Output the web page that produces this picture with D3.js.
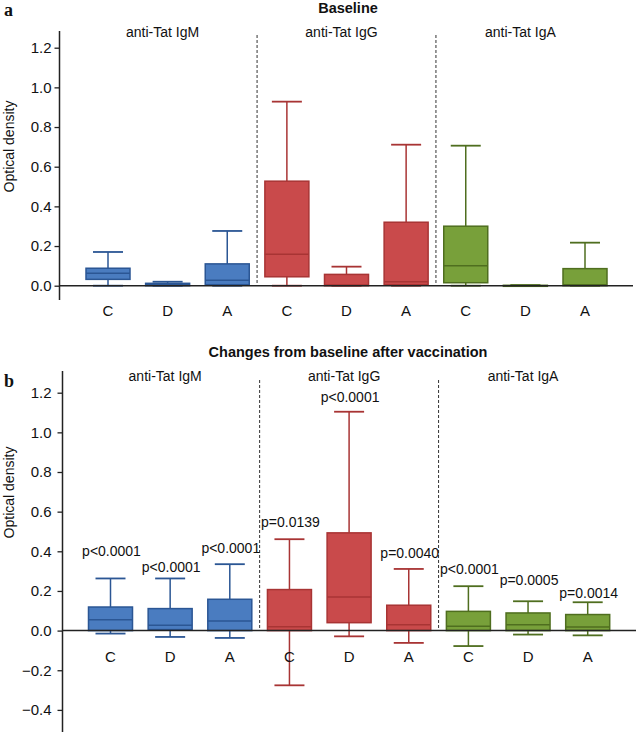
<!DOCTYPE html>
<html><head><meta charset="utf-8">
<script src="https://cdn.jsdelivr.net/npm/d3@7"></script>
<style>
html,body{margin:0;padding:0;background:#fff;}
svg{display:block;font-family:Arial,"Liberation Sans",sans-serif;}
</style></head>
<body><svg id="c" width="638" height="734"></svg>
<script>
// ---------- DATA ----------
const groups = ["anti-Tat IgM", "anti-Tat IgG", "anti-Tat IgA"];
const arms = ["C", "D", "A"];
const yTicksA = [0, 0.2, 0.4, 0.6, 0.8, 1.0, 1.2];
const yTicksB = [-0.4, -0.2, 0, 0.2, 0.4, 0.6, 0.8, 1.0, 1.2];

// Baseline (order: IgM C,D,A, IgG C,D,A, IgA C,D,A)
const baseMin = [0, 0, 0, 0, 0, 0, 0, 0, 0];
const baseQ1  = [0.032, 0, 0.005, 0.045, 0, 0.005, 0.015, 0, 0];
const baseMed = [0.063, 0.005, 0.028, 0.158, 0.003, 0.02, 0.10, 0, 0.005];
const baseQ3  = [0.088, 0.012, 0.11, 0.527, 0.057, 0.32, 0.30, 0.002, 0.086];
const baseMax = [0.17, 0.02, 0.276, 0.928, 0.096, 0.711, 0.706, 0.003, 0.217];

// Changes from baseline after vaccination
const chgMin = [-0.015, -0.032, -0.037, -0.276, -0.029, -0.062, -0.078, -0.02, -0.024];
const chgQ1  = [0, 0.005, 0, 0, 0.04, 0, 0, 0, 0];
const chgMed = [0.055, 0.027, 0.048, 0.02, 0.17, 0.03, 0.022, 0.03, 0.018];
const chgQ3  = [0.119, 0.111, 0.158, 0.207, 0.493, 0.128, 0.097, 0.089, 0.081];
const chgMax = [0.263, 0.263, 0.335, 0.461, 1.104, 0.311, 0.224, 0.148, 0.143];
const pValues = ["p<0.0001", "p<0.0001", "p<0.0001", "p=0.0139", "p<0.0001", "p=0.0040", "p<0.0001", "p=0.0005", "p=0.0014"];

// ---------- STYLE ----------
const fills   = ["#4a7cc0", "#c94a4b", "#78a03a"];
const strokes = ["#2b5694", "#a83434", "#4f6e1f"];
const pLift = [22, 6, 11, 12, 10, 11, 12, 16, 4]; // label lift above whisker (px)

const svg = d3.select("#c");
const keys = d3.range(9);

function panel(opt) {
  const g = svg.append("g");
  const y = d3.scaleLinear().domain(opt.domain).range(opt.yRange);
  const x = d3.scalePoint().domain(keys).range(opt.xRange);
  const bw = 44, cw = 30;
  const y0 = y(0);

  // y axis
  const ax = g.append("g").attr("transform", `translate(${opt.axisX},0)`)
    .call(d3.axisLeft(y).tickValues(opt.ticks).tickSize(5).tickPadding(opt.pad)
      .tickFormat(d3.format(".1f")));
  ax.select(".domain").remove();
  ax.selectAll("line").attr("stroke", "#222").attr("stroke-width", 1.3);
  ax.selectAll("text").attr("font-size", 15).attr("fill", "#111")
    .attr("font-family", "Arial, 'Liberation Sans', sans-serif");
  g.append("line").attr("x1", opt.axisX).attr("x2", opt.axisX)
    .attr("y1", opt.axisTop).attr("y2", opt.axisBottom)
    .attr("stroke", "#222").attr("stroke-width", 1.5);

  // dashed separators
  [2.5, 5.5].forEach(k => {
    const xs = (x(Math.floor(k)) + x(Math.ceil(k))) / 2;
    g.append("line").attr("x1", xs).attr("x2", xs)
      .attr("y1", opt.dashTop).attr("y2", y0)
      .attr("stroke", "#333").attr("stroke-width", 1).attr("stroke-dasharray", "3,2");
  });

  // boxes
  keys.forEach(i => {
    const gi = Math.floor(i / 3);
    const cx = x(i);
    const col = strokes[gi];
    const bg = g.append("g");
    // whiskers
    bg.append("line").attr("x1", cx).attr("x2", cx)
      .attr("y1", y(opt.max[i])).attr("y2", y(opt.q3[i]))
      .attr("stroke", col).attr("stroke-width", 1.5);
    bg.append("line").attr("x1", cx).attr("x2", cx)
      .attr("y1", y(opt.min[i])).attr("y2", y(opt.q1[i]))
      .attr("stroke", col).attr("stroke-width", 1.5);
    [opt.max[i], opt.min[i]].forEach(v => {
      bg.append("line").attr("x1", cx - cw / 2).attr("x2", cx + cw / 2)
        .attr("y1", y(v)).attr("y2", y(v))
        .attr("stroke", col).attr("stroke-width", 1.8);
    });
    // box
    const top = y(opt.q3[i]), bot = y(opt.q1[i]);
    bg.append("rect").attr("x", cx - bw / 2).attr("y", top)
      .attr("width", bw).attr("height", Math.max(bot - top, 1))
      .attr("fill", fills[gi]).attr("stroke", col).attr("stroke-width", 1.5);
    bg.append("line").attr("x1", cx - bw / 2).attr("x2", cx + bw / 2)
      .attr("y1", y(opt.med[i])).attr("y2", y(opt.med[i]))
      .attr("stroke", col).attr("stroke-width", 1.5);
    // category label
    g.append("text").attr("x", cx).attr("y", opt.catY)
      .attr("text-anchor", "middle").attr("font-size", 15).attr("fill", "#111")
      .text(arms[i % 3]);
    if (opt.p) {
      g.append("text").attr("x", cx + 1).attr("y", y(opt.max[i]) - pLift[i])
        .attr("text-anchor", "middle").attr("font-size", 14).attr("fill", "#111")
        .text(opt.p[i]);
    }
  });

  // zero line
  g.append("line").attr("x1", opt.axisX).attr("x2", opt.zeroEnd)
    .attr("y1", y0).attr("y2", y0).attr("stroke", "#222").attr("stroke-width", 1.5);

  // group labels
  groups.forEach((t, gi) => {
    g.append("text").attr("x", x(gi * 3 + 1) - 5).attr("y", opt.groupY)
      .attr("text-anchor", "middle").attr("font-size", 14).attr("fill", "#111").text(t);
  });

  // y title
  g.append("text").attr("transform", `translate(${opt.titleX},${opt.titleY}) rotate(-90)`)
    .attr("text-anchor", "middle").attr("font-size", 14).attr("fill", "#111")
    .text("Optical density");

  // panel title and letter
  g.append("text").attr("x", 348).attr("y", opt.headY).attr("text-anchor", "middle")
    .attr("font-size", 14.5).attr("font-weight", "bold").attr("fill", "#111").text(opt.head);
  g.append("text").attr("x", 4).attr("y", opt.letterY)
    .attr("font-family", "'Times New Roman','Liberation Serif',serif")
    .attr("font-size", 18).attr("font-weight", "bold").attr("fill", "#111").text(opt.letter);
}

panel({
  domain: [0, 1.2], yRange: [285.7, 47.7], xRange: [108, 585], ticks: yTicksA,
  axisX: 59.5, axisTop: 31, axisBottom: 300, pad: 3, dashTop: 35, zeroEnd: 633,
  min: baseMin, q1: baseQ1, med: baseMed, q3: baseQ3, max: baseMax,
  catY: 316, groupY: 36.5, titleX: 14, titleY: 146.5,
  head: "Baseline", headY: 12.5, letter: "a", letterY: 16
});

panel({
  domain: [-0.4, 1.2], yRange: [709.9, 392.7], xRange: [110.5, 587.7], ticks: yTicksB,
  axisX: 62.5, axisTop: 371, axisBottom: 732, pad: 6, dashTop: 380, zeroEnd: 636,
  min: chgMin, q1: chgQ1, med: chgMed, q3: chgQ3, max: chgMax, p: pValues,
  catY: 662, groupY: 380.5, titleX: 14, titleY: 492.5,
  head: "Changes from baseline after vaccination", headY: 357, letter: "b", letterY: 386.5
});
</script>
</body></html>
